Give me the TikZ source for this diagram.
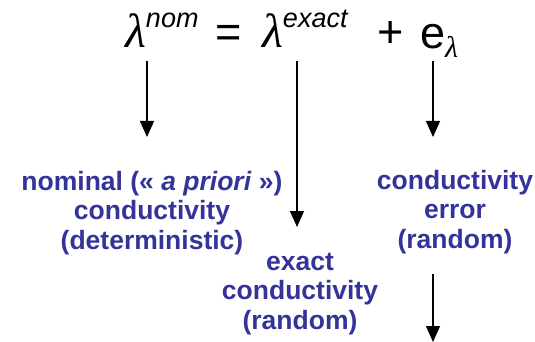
\documentclass[tikz,border=0pt]{standalone}
\usepackage{fontspec}
\setmainfont{Liberation Sans}
\newfontfamily\grk{Liberation Serif}
\usepackage{xcolor}
\usetikzlibrary{arrows.meta}
\definecolor{lblue}{RGB}{51,51,153}

\begin{document}
\begin{tikzpicture}[x=1pt,y=-1pt,
  every node/.style={inner sep=0pt},
  term/.style={anchor=base west,font=\fontsize{45}{50}\selectfont},
  lbl/.style={align=center,text=lblue,font=\fontsize{26.5}{29.5}\selectfont\bfseries},
  arr/.style={-{Triangle[width=14pt,length=16pt]},line width=1.4pt}]
\useasboundingbox (0,0) rectangle (535,342);
% equation, term by term
\node[term] (lnom) at (125,48) {{\fontsize{48}{48}\selectfont\grk\itshape λ}\raisebox{20pt}{\fontsize{27}{27}\selectfont\itshape nom}};
\node[term] (eq) at (215,48) {=};
\node[term] (lexact) at (262,48) {{\fontsize{48}{48}\selectfont\grk\itshape λ}\raisebox{20pt}{\fontsize{27}{27}\selectfont\itshape exact}};
\node[term] (plus) at (377,48) {+};
\node[term] (elam) at (420,49) {e\raisebox{-9pt}{\fontsize{30}{30}\selectfont\grk\itshape λ}};
% labels
\node[lbl] (nomlbl) at (152,213) {nominal («~\textit{a priori}~»)\\conductivity\\(deterministic)};
\node[lbl] (exactlbl) at (300,294) {exact\\conductivity\\(random)};
\node[lbl] (errlbl) at (455,212) {conductivity\\error\\(random)};
% arrows
\coordinate (a1) at (147,137);
\coordinate (a2) at (297,227);
\coordinate (a3) at (433,137);
\coordinate (a4) at (433,342);
\draw[arr] (lnom.base -| a1) ++(0,13) -- (a1);
\draw[arr] (lexact.base -| a2) ++(0,13) -- (a2);
\draw[arr] (a3 |- elam.base) ++(0,12) -- (a3);
\draw[arr] (errlbl.south -| a4) ++(0,20) -- (a4);
\end{tikzpicture}
\end{document}
